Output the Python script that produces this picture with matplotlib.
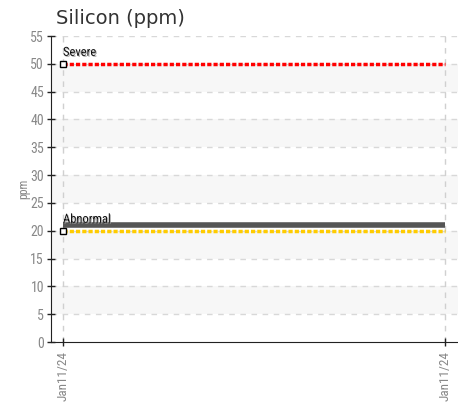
import matplotlib
matplotlib.use("Agg")
import matplotlib.pyplot as plt
import matplotlib.patheffects as pe

dates = ["Jan11/24", "Jan11/24"]
values = [21, 21]
severe = 50
abnormal = 20
yticks = list(range(0, 56, 5))

fig = plt.figure(figsize=(4.58, 4.08), dpi=100)
ax = fig.add_axes([51/458, 66/408, 1 - 51/458, 306/408])
x = list(range(len(dates)))
ax.set_xlim(-12/382, 1 + 13/382)
ax.set_ylim(0, 55)

# alternating bands
for lo in range(5, 55, 10):
    ax.axhspan(lo, lo + 5, color="#f7f7f7", zorder=0, lw=0)

for yv in yticks[1:]:
    ax.axhline(yv, color="#d8d8d8", lw=1, ls=(0, (4, 4)), zorder=1)
for xv in x:
    ax.axvline(xv, color="#d0d0d0", lw=1, ls=(0, (4, 4)), zorder=1)

ax.plot(x, values, color="#555555", lw=4, solid_capstyle="butt", zorder=3)
ax.plot(x, [severe]*2, color="#ff0000", lw=2.5, ls=(0, (1.2, 0.6)), zorder=4)
ax.plot(x, [abnormal]*2, color="#ffcc00", lw=2.5, ls=(0, (1.2, 0.6)), zorder=4)
ax.plot([0], [severe], marker="s", ms=4.5, mfc="white", mec="black", mew=1, zorder=5)
ax.plot([0], [abnormal], marker="s", ms=4.5, mfc="white", mec="black", mew=1, zorder=5)

fam = ["Roboto Condensed", "DejaVu Sans"]
eff = [pe.withSimplePatchShadow(offset=(0.8, -0.8), shadow_rgbFace="#999999", alpha=0.7)]
ax.text(0, severe + 0.9, "Severe", fontsize=9, family=fam, color="#111111", va="bottom", ha="left", path_effects=eff)
ax.text(0, abnormal + 0.9, "Abnormal", fontsize=9, family=fam, color="#111111", va="bottom", ha="left", path_effects=eff)

ax.set_yticks(yticks)
ax.set_yticklabels([str(v) for v in yticks], family=fam, fontsize=10, color="#888888")
ax.set_xticks(x)
ax.set_xticklabels(dates, rotation=90, family=fam, fontsize=9.5, color="#888888")
ax.tick_params(axis="both", direction="inout", length=6, width=1, color="#222222")
ax.tick_params(axis="y", pad=2)

for s in ["top", "right"]:
    ax.spines[s].set_visible(False)
ax.spines["left"].set_color("#222222")
ax.spines["bottom"].set_color("#222222")

ax.set_ylabel("ppm", family=fam, fontsize=8.5, color="#888888", labelpad=0)
fig.text(56/458, 1 - 18/408, "Silicon (ppm)", fontsize=14, color="#333333", va="center", ha="left")

fig.savefig("out.png", dpi=100)
